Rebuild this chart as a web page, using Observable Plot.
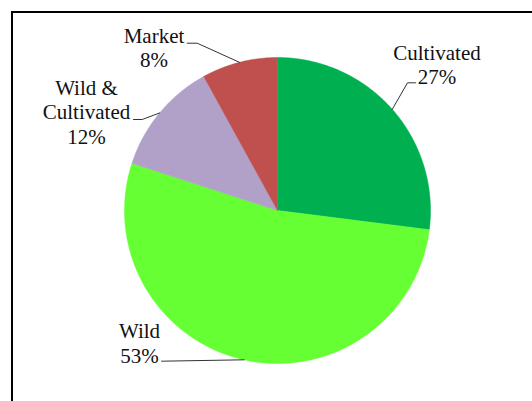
<!DOCTYPE html>
<html><head><meta charset="utf-8">
<script src="https://cdn.jsdelivr.net/npm/d3@7"></script>
<script src="https://cdn.jsdelivr.net/npm/@observablehq/plot@0.6"></script>
<style>
html,body{margin:0;padding:0;background:#fff;overflow:hidden;width:532px;height:401px}
#chart{position:absolute;left:0;top:0}
#chart svg text{font-family:"Liberation Serif","Times New Roman",serif !important}
#frame{position:absolute;left:11px;top:11px;width:600px;height:500px;border-top:2px solid #000;border-left:2px solid #000;pointer-events:none}
</style></head><body>
<div id="chart"></div><div id="frame"></div>
<script>
// ---- data ----
const categories = ["Cultivated", "Wild", "Wild & Cultivated", "Market"];
const shares = [27, 53, 12, 8];
const labelNames = ["Cultivated", "Wild", "Wild &\nCultivated", "Market"];
const colors = ["#00B050", "#66FF33", "#B1A0C7", "#C0504D"];

// ---- layout (pixels) ----
const W = 532, H = 401, CX = 277, CY = 210, R = 153;
const labelLayout = {
  "Cultivated":        {x: 436.5, y: 63.8,  elbow: [407, 82.3],   end: [415, 82.3]},
  "Wild":              {x: 139,   y: 342.2, elbow: [161, 360.7],  end: [161, 360.7]},
  "Wild & Cultivated": {x: 86,    y: 111,   elbow: [141.7, 119],  end: [133, 119]},
  "Market":            {x: 153.5, y: 46.6,  elbow: [196.7, 42.7], end: [186.7, 42.7]}
};
const px = v => (v - CX) / R, py = v => (CY - v) / R;

const total = d3.sum(shares);
let acc = 0;
const slices = categories.map((c, i) => {
  const a0 = acc / total * 2 * Math.PI; acc += shares[i];
  const a1 = acc / total * 2 * Math.PI;
  return {c, i, a0, a1, mid: (a0 + a1) / 2};
});
const polys = slices.map(s => {
  const n = Math.max(2, Math.ceil((s.a1 - s.a0) / (Math.PI / 360)));
  const pts = [{x: 0, y: 0}];
  for (let k = 0; k <= n; k++) {
    const a = s.a0 + (s.a1 - s.a0) * k / n;
    pts.push({x: Math.sin(a), y: Math.cos(a)});
  }
  pts.push({x: 0, y: 0});
  return pts;
});
const labels = slices.map(s => {
  const L = labelLayout[s.c];
  return {text: labelNames[s.i] + "\n" + shares[s.i] + "%", x: px(L.x), y: py(L.y)};
});
const leaders = slices.map(s => {
  const L = labelLayout[s.c];
  return [
    {x: Math.sin(s.mid), y: Math.cos(s.mid)},
    {x: px(L.elbow[0]), y: py(L.elbow[1])},
    {x: px(L.end[0]), y: py(L.end[1])}
  ];
});

const chart = Plot.plot({
  width: W, height: H,
  marginTop: 0, marginRight: 0, marginBottom: 0, marginLeft: 0,
  x: {domain: [-CX / R, (W - CX) / R], axis: null},
  y: {domain: [-(H - CY) / R, CY / R], axis: null},
  style: {background: "transparent", fontFamily: "'Liberation Serif', 'Times New Roman', serif"},
  marks: [
    ...polys.map((p, i) => Plot.line(p, {x: "x", y: "y", fill: colors[i], stroke: colors[i], strokeWidth: 0.5, curve: "linear"})),
    ...leaders.map(l => Plot.line(l, {x: "x", y: "y", stroke: "#333", strokeWidth: 1, curve: "linear"})),
    Plot.text(labels, {x: "x", y: "y", text: "text", fontFamily: "'Liberation Serif', 'Times New Roman', serif", fontSize: 21,
      lineHeight: 1.167, textAnchor: "middle", lineAnchor: "middle", fill: "#111"})
  ]
});
document.getElementById("chart").appendChild(chart);
</script>
</body></html>
